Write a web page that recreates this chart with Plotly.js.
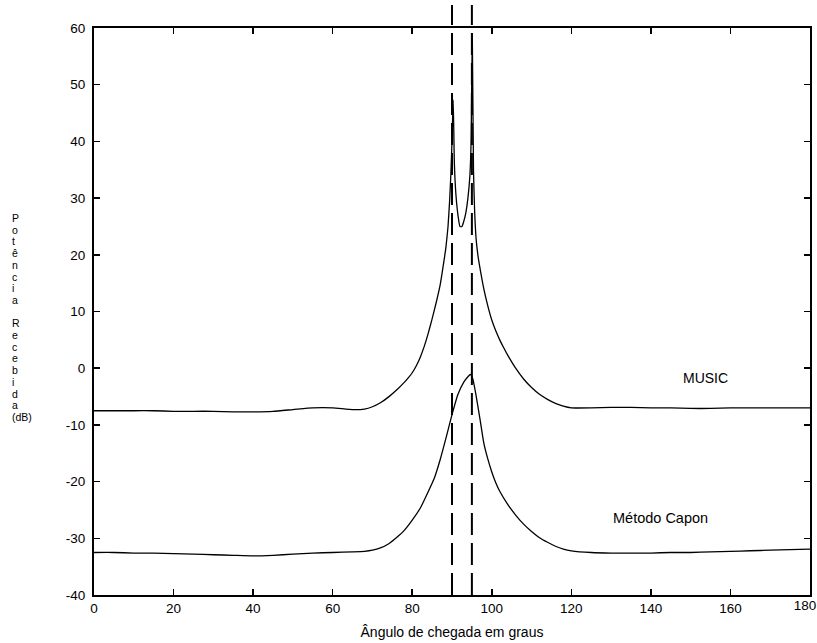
<!DOCTYPE html>
<html>
<head>
<meta charset="utf-8">
<script src="https://cdn.plot.ly/plotly-3.0.1.min.js"></script>
<style>html,body{margin:0;padding:0;background:#fff;}#chart{width:817px;height:643px;}</style>
</head>
<body>
<div id="chart"></div>
<script>
// ---- data ----
const musicAngle = [0, 5, 10, 15, 20, 25, 30, 35, 40, 45, 50, 55, 60, 65, 68, 70, 72, 74, 76, 78, 79, 80, 81, 82, 83, 84, 85, 86, 87, 88, 88.5, 89, 89.4, 89.7, 90, 90.3, 90.6, 91, 91.5, 92, 92.5, 93, 93.5, 94, 94.5, 94.8, 95.1, 95.4, 95.7, 96.1, 96.6, 97.2, 98, 99, 100, 101, 102, 103, 104, 106, 108, 110, 112, 114, 116, 118, 120, 125, 130, 135, 140, 145, 150, 155, 160, 165, 170, 175, 180];
const musicDb = [-7.5, -7.5, -7.5, -7.5, -7.6, -7.6, -7.6, -7.7, -7.7, -7.6, -7.3, -7.0, -7.0, -7.3, -7.2, -6.8, -6.1, -5.1, -3.9, -2.5, -1.7, -0.8, 0.4, 1.9, 3.8, 6.1, 8.7, 11.5, 14.6, 19.0, 21.5, 25, 29.5, 34, 40, 47.3, 36, 30.5, 27, 25, 25, 26, 27.5, 30, 34, 40, 59, 35, 27.5, 22.5, 19.5, 17, 14, 11, 8.5, 6.6, 5.0, 3.6, 2.3, 0.0, -1.9, -3.4, -4.6, -5.5, -6.2, -6.7, -7.0, -7.0, -6.9, -6.9, -7.0, -7.0, -7.1, -7.1, -7.0, -7.0, -7.0, -7.0, -7.0];

const caponAngle = [0, 5, 10, 15, 20, 25, 30, 35, 40, 45, 50, 55, 60, 65, 68, 70, 72, 74, 76, 78, 80, 82, 84, 85.5, 87, 88.5, 90, 91.5, 93, 94, 94.6, 95.2, 96, 97, 98, 99, 100, 101, 102, 104, 106, 108, 110, 112, 114, 116, 118, 120, 125, 130, 135, 140, 145, 150, 155, 160, 165, 170, 175, 180];
const caponDb = [-32.5, -32.5, -32.6, -32.6, -32.7, -32.8, -32.9, -33.0, -33.1, -33.0, -32.8, -32.6, -32.5, -32.4, -32.3, -32.1, -31.7, -31.0, -29.9, -28.6, -26.8, -24.7, -21.8, -19.5, -16.2, -12.3, -8.2, -4.6, -2.4, -1.5, -1.1, -1.8, -4.6, -8.8, -13.2, -16.0, -18.3, -20.2, -21.7, -24.0, -25.9, -27.5, -28.8, -29.9, -30.7, -31.4, -31.9, -32.2, -32.5, -32.6, -32.6, -32.6, -32.5, -32.5, -32.4, -32.3, -32.2, -32.1, -32.0, -31.9];

const sourceAngles = [90, 95];           // dashed reference lines
const xTicks = [0, 20, 40, 60, 80, 100, 120, 140, 160, 180];
const yTicks = [-40, -30, -20, -10, 0, 10, 20, 30, 40, 50, 60];
const yTitleChars = ['P','o','t','ê','n','c','i','a','','R','e','c','e','b','i','d','a','(dB)'];
const xTitle = 'Ângulo de chegada em graus';
const musicLabel = 'MUSIC';
const caponLabel = 'Método Capon';

// ---- layout constants ----
const W = 817, H = 643;
const M = {l: 94, r: 7, t: 28, b: 48};
const plotH = H - M.t - M.b, plotW = W - M.l - M.r;
const FONT = 'Liberation Sans, Arial, sans-serif';
const lastTick = xTicks[xTicks.length - 1];

const lineStyle = {color: '#000', width: 1.3, shape: 'spline', smoothing: 0.5};
const traces = [
  {x: musicAngle, y: musicDb, type: 'scatter', mode: 'lines', line: lineStyle, hoverinfo: 'skip'},
  {x: caponAngle, y: caponDb, type: 'scatter', mode: 'lines', line: lineStyle, hoverinfo: 'skip'},
  // empty trace so the overlay axis (carrying the last tick label) gets drawn
  {x: [], y: [], type: 'scatter', mode: 'lines', xaxis: 'x2', yaxis: 'y', hoverinfo: 'skip', showlegend: false}
];

const shapes = sourceAngles.map(a => ({
  type: 'line', xref: 'x', yref: 'paper', x0: a, x1: a, y0: 0, y1: 1 + 23 / plotH,
  line: {color: '#000', width: 2, dash: '22px,8px'}, layer: 'above'
}));

// stacked vertical y-axis title, one character per line
const annotations = yTitleChars.map((c, i) => ({
  text: c, xref: 'paper', yref: 'paper',
  x: (10 - M.l) / plotW, y: (M.t + plotH - (218 + i * 11.7)) / plotH,
  xanchor: 'left', yanchor: 'middle', showarrow: false,
  font: {family: FONT, size: 10.5, color: '#000'}
}));
annotations.push(
  {text: musicLabel, x: 153.8, y: -1.8, xref: 'x', yref: 'y', showarrow: false,
   font: {family: FONT, size: 14, color: '#000'}},
  {text: caponLabel, x: 142.4, y: -26.4, xref: 'x', yref: 'y', showarrow: false,
   font: {family: FONT, size: 14.5, color: '#000'}}
);

const tickFont = {family: FONT, size: 13.5, color: '#000'};
const axisCommon = {
  showgrid: false, zeroline: false, showline: true, linecolor: '#000', linewidth: 2,
  mirror: 'ticks', ticks: 'inside', ticklen: 6, tickwidth: 1.5, tickcolor: '#000',
  tickfont: tickFont
};

const layout = {
  width: W, height: H, margin: M,
  paper_bgcolor: '#fff', plot_bgcolor: '#fff', showlegend: false,
  font: {family: FONT, color: '#000'},
  xaxis: Object.assign({}, axisCommon, {
    range: [0, 180], tickmode: 'array', tickvals: xTicks,
    ticktext: xTicks.map(t => t === lastTick ? '' : String(t)),
    title: {text: xTitle, font: {family: FONT, size: 14, color: '#000'}, standoff: 12}
  }),
  // overlay axis that only carries the last tick label, nudged left to stay inside the page
  xaxis2: {
    overlaying: 'x', anchor: 'y', side: 'bottom', range: [0, 180],
    tickmode: 'array', tickvals: [lastTick], ticktext: [String(lastTick)],
    ticks: '', showline: false, showgrid: false, zeroline: false,
    tickfont: tickFont, ticklabelshift: -5, ticklabeloverflow: 'allow'
  },
  yaxis: Object.assign({}, axisCommon, {
    range: [-40, 60], tickmode: 'array', tickvals: yTicks, ticktext: yTicks.map(String),
    ticklabelstandoff: 4
  }),
  shapes: shapes,
  annotations: annotations
};

Plotly.newPlot('chart', traces, layout, {staticPlot: true, displayModeBar: false});
</script>
</body>
</html>
